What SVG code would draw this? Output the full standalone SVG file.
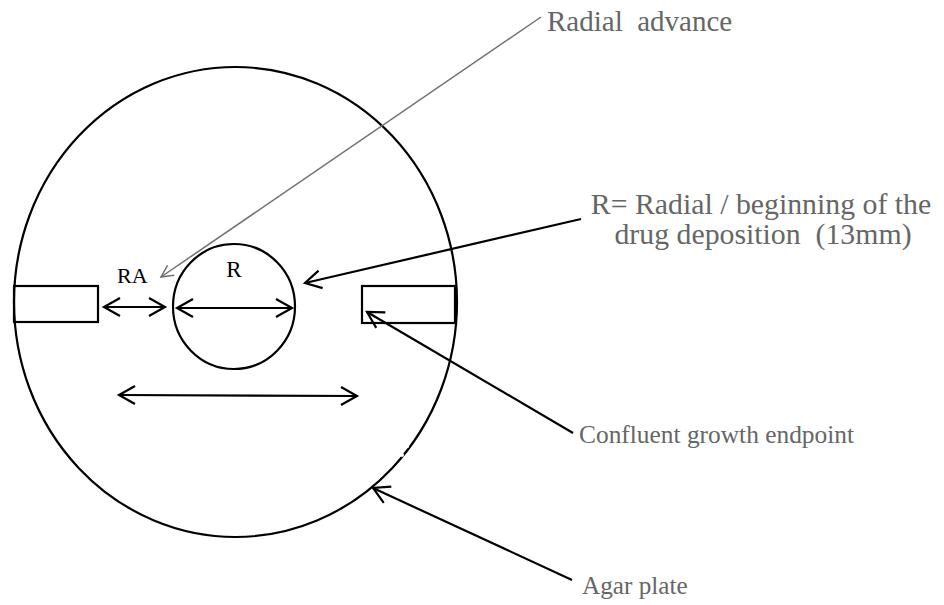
<svg xmlns="http://www.w3.org/2000/svg" width="944" height="605" viewBox="0 0 944 605">
  <style>
    .shape { fill: none; stroke: #000; stroke-width: 2.2; }
    .conn { fill: none; stroke: #000; stroke-width: 2.2; }
    .gray { fill: none; stroke: #707070; stroke-width: 1.5; }
    .lbl { font-family: "Liberation Serif", "Times New Roman", serif; fill: #000; }
    .note { font-family: "Liberation Serif", "Times New Roman", serif; fill: #666; }
  </style>
  <defs>
    <marker id="ah" markerUnits="userSpaceOnUse" markerWidth="24" markerHeight="24" refX="0" refY="0" viewBox="-20 -12 24 24" orient="auto-start-reverse">
      <path d="M-16,-9 L0,0 L-16,9" fill="none" stroke="#000" stroke-width="2.2"/>
    </marker>
    <marker id="ahg" markerUnits="userSpaceOnUse" markerWidth="20" markerHeight="20" refX="0" refY="0" viewBox="-16 -10 20 20" orient="auto">
      <path d="M-12,-6 L0,0 L-12,6" fill="none" stroke="#707070" stroke-width="1.5"/>
    </marker>
  </defs>
  <rect width="944" height="605" fill="#fff"/>

  <g id="agar-plate">
    <ellipse class="shape" cx="235.5" cy="302" rx="221.5" ry="235"/>
    <circle cx="407" cy="446" r="2.2" fill="#fff"/>
    <circle cx="402" cy="455" r="2" fill="#fff"/>
  </g>
  <g id="drug-disk">
    <ellipse class="shape" cx="234" cy="306.5" rx="61" ry="62.5"/>
    <text class="lbl" x="234" y="277" font-size="23" text-anchor="middle">R</text>
  </g>
  <g id="left-strip">
    <rect class="shape" x="14" y="286" width="84" height="36" fill="#fff"/>
  </g>
  <g id="right-strip">
    <rect class="shape" x="362" y="286" width="93" height="37" fill="#fff"/>
  </g>
  <g id="ra-label">
    <text class="lbl" x="117" y="283" font-size="22">RA</text>
  </g>

  <g id="connectors">
    <line class="conn" x1="104" y1="307" x2="165" y2="307" marker-start="url(#ah)" marker-end="url(#ah)"/>
    <line class="conn" x1="177" y1="308" x2="292" y2="308" marker-start="url(#ah)" marker-end="url(#ah)"/>
    <line class="conn" x1="119" y1="395" x2="357" y2="396" marker-start="url(#ah)" marker-end="url(#ah)"/>
    <line class="gray" x1="541" y1="17" x2="161" y2="277" marker-end="url(#ahg)"/>
    <line class="conn" x1="581" y1="219" x2="305" y2="283" marker-end="url(#ah)"/>
    <line class="conn" x1="573" y1="433" x2="367" y2="312" marker-end="url(#ah)"/>
    <line class="conn" x1="572" y1="580" x2="373" y2="488" marker-end="url(#ah)"/>
  </g>

  <g id="label-radial-advance">
    <text class="note" x="547" y="31" font-size="29" xml:space="preserve">Radial  advance</text>
  </g>
  <g id="label-r">
    <text class="note" x="761" y="214" font-size="29.8" text-anchor="middle" xml:space="preserve">R= Radial / beginning of the</text>
    <text class="note" x="763" y="244" font-size="29.8" text-anchor="middle" xml:space="preserve">drug deposition  (13mm)</text>
  </g>
  <g id="label-confluent">
    <text class="note" x="579" y="443" font-size="25.4">Confluent growth endpoint</text>
  </g>
  <g id="label-agar">
    <text class="note" x="582" y="594" font-size="25.2">Agar plate</text>
  </g>
</svg>
